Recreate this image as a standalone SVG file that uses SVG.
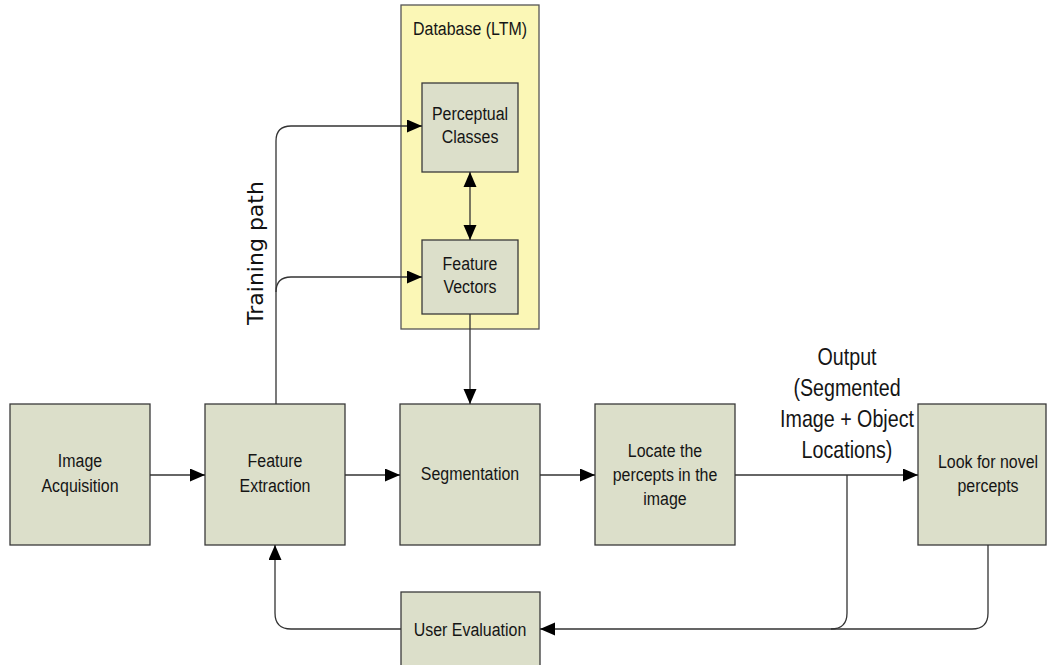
<svg xmlns="http://www.w3.org/2000/svg" width="1047" height="665" viewBox="0 0 1047 665">
  <defs>
    <marker id="arrow" markerUnits="userSpaceOnUse" markerWidth="16" markerHeight="14" refX="15" refY="6.5" orient="auto">
      <path d="M0,0 L15,6.5 L0,13 z" fill="#000"/>
    </marker>
    <marker id="arrowStart" markerUnits="userSpaceOnUse" markerWidth="16" markerHeight="14" refX="0" refY="6.5" orient="auto">
      <path d="M15,0 L0,6.5 L15,13 z" fill="#000"/>
    </marker>
    <style>
      .box { fill: #dcdfca; stroke: #3a3a3a; stroke-width: 1.3; }
      .db { fill: #fbf7b6; stroke: #555; stroke-width: 1.3; }
      /* condensed labels: regular sans squeezed horizontally per text */
      .lbl { font-family: "Liberation Sans", Arial, sans-serif; font-size: 19px; fill: #151515; text-anchor: middle; }
      .big { font-family: "Liberation Sans", Arial, sans-serif; font-size: 24px; fill: #151515; text-anchor: middle; }
      .side { font-family: "DejaVu Sans", sans-serif; font-size: 22px; fill: #111; text-anchor: middle; }
      .wire { fill: none; stroke: #333; stroke-width: 1.3; }
    </style>
  </defs>
  <rect width="1047" height="665" fill="#fff"/>

  <!-- long-term memory container -->
  <g id="database">
    <rect class="db" x="401" y="5" width="138" height="324"/>
    <text class="lbl" transform="translate(470 35) scale(0.84 1)">Database (LTM)</text>
  </g>
  <g id="perceptual-classes">
    <rect class="box" x="422" y="83" width="96" height="89"/>
    <text class="lbl" transform="translate(470 120) scale(0.84 1)">Perceptual</text>
    <text class="lbl" transform="translate(470 143) scale(0.84 1)">Classes</text>
  </g>
  <g id="feature-vectors">
    <rect class="box" x="422" y="240" width="96" height="74"/>
    <text class="lbl" transform="translate(470 270) scale(0.84 1)">Feature</text>
    <text class="lbl" transform="translate(470 293) scale(0.84 1)">Vectors</text>
  </g>

  <!-- main pipeline -->
  <g id="image-acquisition">
    <rect class="box" x="10" y="404" width="140" height="141"/>
    <text class="lbl" transform="translate(80 467) scale(0.84 1)">Image</text>
    <text class="lbl" transform="translate(80 492) scale(0.84 1)">Acquisition</text>
  </g>
  <g id="feature-extraction">
    <rect class="box" x="205" y="404" width="140" height="141"/>
    <text class="lbl" transform="translate(275 467) scale(0.84 1)">Feature</text>
    <text class="lbl" transform="translate(275 492) scale(0.84 1)">Extraction</text>
  </g>
  <g id="segmentation">
    <rect class="box" x="400" y="404" width="140" height="141"/>
    <text class="lbl" transform="translate(470 480) scale(0.84 1)">Segmentation</text>
  </g>
  <g id="locate-percepts">
    <rect class="box" x="595" y="404" width="140" height="141"/>
    <text class="lbl" transform="translate(665 457) scale(0.84 1)">Locate the</text>
    <text class="lbl" transform="translate(665 481) scale(0.84 1)">percepts in the</text>
    <text class="lbl" transform="translate(665 505) scale(0.84 1)">image</text>
  </g>
  <g id="novel-percepts">
    <rect class="box" x="918" y="404" width="128" height="141"/>
    <text class="lbl" transform="translate(988 468) scale(0.84 1)">Look for novel</text>
    <text class="lbl" transform="translate(988 492) scale(0.84 1)">percepts</text>
  </g>
  <g id="user-evaluation">
    <rect class="box" x="401" y="592" width="139" height="90"/>
    <text class="lbl" transform="translate(470 636) scale(0.84 1)">User Evaluation</text>
  </g>

  <!-- connectors -->
  <g id="connectors">
    <path class="wire" d="M150,475 H205" marker-end="url(#arrow)"/>
    <path class="wire" d="M345,475 H400" marker-end="url(#arrow)"/>
    <path class="wire" d="M540,475 H595" marker-end="url(#arrow)"/>
    <path class="wire" d="M735,475 H918" marker-end="url(#arrow)"/>
    <path class="wire" d="M470,314 V404" marker-end="url(#arrow)"/>
    <path class="wire" d="M470,172 V240" marker-start="url(#arrowStart)" marker-end="url(#arrow)"/>
    <!-- training path -->
    <path class="wire" d="M276,404 V141 Q276,126 291,126 H422" marker-end="url(#arrow)"/>
    <path class="wire" d="M276,292 Q276,277 291,277 H422" marker-end="url(#arrow)"/>
    <!-- feedback loop -->
    <path class="wire" d="M847,475 V613 Q847,629 831,629 H540" marker-end="url(#arrow)"/>
    <path class="wire" d="M988,545 V613 Q988,629 972,629 H831"/>
    <path class="wire" d="M401,629 H291 Q275,629 275,613 V545" marker-end="url(#arrow)"/>
  </g>

  <!-- free labels -->
  <g id="labels">
    <text class="side" x="263" y="253" transform="rotate(-90 263 253)">Training path</text>
    <text class="big" transform="translate(847 365) scale(0.82 1)">Output</text>
    <text class="big" transform="translate(847 396) scale(0.82 1)">(Segmented</text>
    <text class="big" transform="translate(847 427) scale(0.82 1)">Image + Object</text>
    <text class="big" transform="translate(847 458) scale(0.82 1)">Locations)</text>
  </g>
</svg>
